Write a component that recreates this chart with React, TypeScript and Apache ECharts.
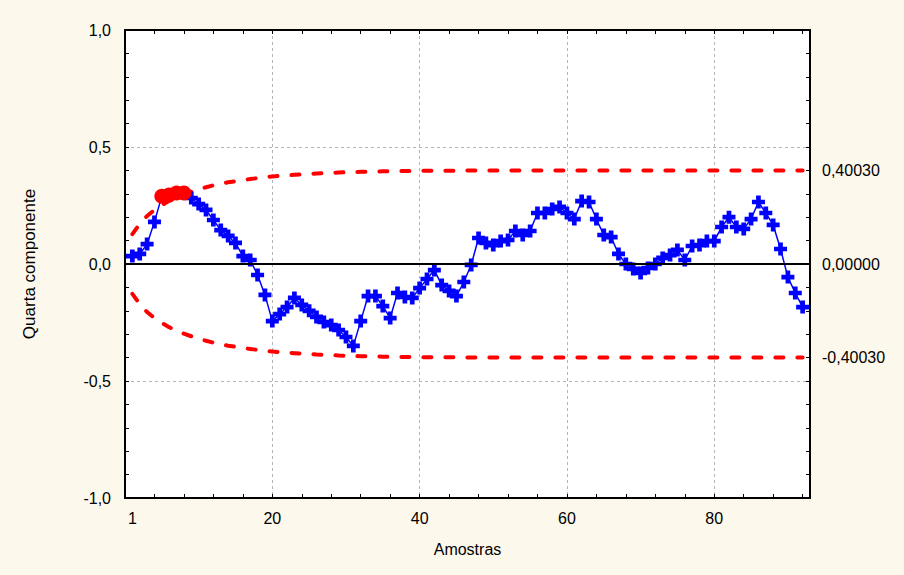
import React, { useEffect, useRef } from 'react';
import * as echarts from 'echarts';

const componentValues = [
  0.034, 0.043, 0.085, 0.18, 0.29, 0.295, 0.303, 0.303, 0.282, 0.256,
  0.231, 0.188, 0.145, 0.12, 0.09, 0.034, 0.017, -0.047, -0.132, -0.244,
  -0.214, -0.184, -0.145, -0.175, -0.2, -0.226, -0.248, -0.261, -0.282, -0.312,
  -0.35, -0.244, -0.137, -0.137, -0.18, -0.231, -0.124, -0.141, -0.145, -0.103,
  -0.064, -0.026, -0.09, -0.115, -0.137, -0.077, -0.004, 0.111, 0.09, 0.081,
  0.098, 0.103, 0.141, 0.124, 0.141, 0.218, 0.218, 0.235, 0.244, 0.218,
  0.192, 0.269, 0.265, 0.192, 0.124, 0.115, 0.043, 0.0, -0.021, -0.038,
  -0.017, 0.0, 0.026, 0.038, 0.06, 0.017, 0.077, 0.081, 0.098, 0.098,
  0.158, 0.2, 0.158, 0.15, 0.192, 0.265, 0.218, 0.167, 0.064, -0.056,
  -0.124, -0.184,
];

const upperLimit = [
  0.128, 0.172, 0.205, 0.231, 0.252, 0.27, 0.285, 0.298, 0.309, 0.319,
  0.328, 0.336, 0.343, 0.349, 0.354, 0.359, 0.363, 0.367, 0.371, 0.374,
  0.377, 0.379, 0.381, 0.383, 0.385, 0.387, 0.388, 0.389, 0.391, 0.392,
  0.393, 0.394, 0.394, 0.395, 0.396, 0.396, 0.397, 0.397, 0.398, 0.398,
  0.398, 0.399, 0.399, 0.399, 0.399, 0.399, 0.4, 0.4, 0.4, 0.4,
  0.4, 0.4, 0.4, 0.4, 0.4, 0.4, 0.4, 0.4, 0.4, 0.4,
  0.4, 0.4, 0.4, 0.4, 0.4, 0.4, 0.4, 0.4, 0.4, 0.4,
  0.4, 0.4, 0.4, 0.4, 0.4, 0.4, 0.4, 0.4, 0.4, 0.4,
  0.4, 0.4, 0.4, 0.4, 0.4, 0.4, 0.4, 0.4, 0.4, 0.4,
  0.4, 0.4,
];

const lowerLimit = [
  -0.128, -0.172, -0.205, -0.231, -0.252, -0.27, -0.285, -0.298, -0.309, -0.319,
  -0.328, -0.336, -0.343, -0.349, -0.354, -0.359, -0.363, -0.367, -0.371, -0.374,
  -0.377, -0.379, -0.381, -0.383, -0.385, -0.387, -0.388, -0.389, -0.391, -0.392,
  -0.393, -0.394, -0.394, -0.395, -0.396, -0.396, -0.397, -0.397, -0.398, -0.398,
  -0.398, -0.399, -0.399, -0.399, -0.399, -0.399, -0.4, -0.4, -0.4, -0.4,
  -0.4, -0.4, -0.4, -0.4, -0.4, -0.4, -0.4, -0.4, -0.4, -0.4,
  -0.4, -0.4, -0.4, -0.4, -0.4, -0.4, -0.4, -0.4, -0.4, -0.4,
  -0.4, -0.4, -0.4, -0.4, -0.4, -0.4, -0.4, -0.4, -0.4, -0.4,
  -0.4, -0.4, -0.4, -0.4, -0.4, -0.4, -0.4, -0.4, -0.4, -0.4,
  -0.4, -0.4,
];

const outOfControl = [5, 6, 7, 8];
const xLabelValues = [1, 20, 40, 60, 80];
const rightLabelValues = [-0.4003, 0, 0.4003];
const xTickValues = [0, 4, 8, 12, 16, 20, 24, 28, 32, 36, 40, 44, 48, 52, 56, 60, 64, 68, 72, 76, 80, 84, 88, 92];
const yTickValues = [-1, -0.9, -0.8, -0.7, -0.6, -0.5, -0.4, -0.3, -0.2, -0.1, 0, 0.1, 0.2, 0.3, 0.4, 0.5, 0.6, 0.7, 0.8, 0.9, 1];

const FONT = '"Liberation Sans", Arial, sans-serif';
const PLUS = 'path://M3.2,0H6.8V3.2H10V6.8H6.8V10H3.2V6.8H0V3.2H3.2Z';

export default function App() {
  const ref = useRef<HTMLDivElement>(null);

  useEffect(() => {
    if (!ref.current) return;
    const chart = echarts.init(ref.current, null, { renderer: 'svg' });

    const axisLine = { show: true, onZero: false, lineStyle: { color: '#000', width: 2 } };
    const xTick = { show: true, inside: true, length: 4, customValues: xTickValues, lineStyle: { color: '#000', width: 1 } };
    const yTick = { show: true, inside: true, length: 4, customValues: yTickValues, lineStyle: { color: '#000', width: 1 } };
    const gridLine = { show: true, lineStyle: { color: '#b4b4b4', type: [3, 3], width: 1 } };

    chart.setOption({
      animation: false,
      backgroundColor: '#FDF8EC',
      textStyle: { fontFamily: FONT },
      grid: {
        left: 125, right: 94, top: 30, bottom: 77,
        show: true, backgroundColor: '#ffffff', borderWidth: 0,
      },
      xAxis: [
        {
          type: 'value', position: 'bottom', min: 0, max: 93, interval: 20,
          axisLine, axisTick: xTick,
          axisLabel: {
            customValues: xLabelValues, color: '#000', fontSize: 16, margin: 12,
            fontFamily: FONT,
          },
          splitLine: { show: false },
          name: 'Amostras', nameLocation: 'middle', nameGap: 43,
          nameTextStyle: { color: '#000', fontSize: 16, fontFamily: FONT },
          z: 5,
        },
        {
          type: 'value', position: 'top', min: 0, max: 93, interval: 20,
          axisLine, axisTick: xTick,
          axisLabel: { show: false }, splitLine: { show: false },
          z: 5,
        },
        {
          type: 'value', position: 'top', min: 0, max: 93, interval: 20,
          axisLine: { show: false }, axisTick: { show: false },
          axisLabel: { show: false }, splitLine: gridLine,
          z: 0,
        },
      ],
      yAxis: [
        {
          type: 'value', position: 'left', min: -1, max: 1, interval: 0.5,
          axisLine, axisTick: yTick,
          axisLabel: {
            color: '#000', fontSize: 16, margin: 14, fontFamily: FONT,
            formatter: (v: number) => v.toFixed(1).replace('.', ','),
          },
          splitLine: { show: false },
          name: 'Quarta componente', nameLocation: 'middle', nameGap: 87,
          nameTextStyle: { color: '#000', fontSize: 17, fontFamily: FONT },
          z: 5,
        },
        {
          type: 'value', position: 'right', min: -1, max: 1, interval: 0.5,
          axisLine, axisTick: yTick,
          axisLabel: {
            customValues: rightLabelValues, color: '#000', fontSize: 16, margin: 12,
            fontFamily: FONT,
            formatter: (v: number) => v.toFixed(5).replace('.', ','),
          },
          splitLine: { show: false },
          z: 5,
        },
        {
          type: 'value', position: 'right', min: -1, max: 1, interval: 0.5,
          axisLine: { show: false }, axisTick: { show: false },
          axisLabel: { show: false }, splitLine: gridLine,
          z: 0,
        },
      ],
      series: [
        {
          type: 'line', name: 'LSC', silent: true, showSymbol: false, symbol: 'none',
          data: upperLimit.map((v, i) => [i + 1, v]),
          lineStyle: { color: '#ff0000', width: 4, type: [8, 14], cap: 'round' },
          z: 2,
          markLine: {
            silent: true, symbol: 'none', label: { show: false },
            lineStyle: { color: '#000', width: 2, type: 'solid' },
            data: [{ yAxis: 0 }],
          },
        },
        {
          type: 'line', name: 'LIC', silent: true, showSymbol: false, symbol: 'none',
          data: lowerLimit.map((v, i) => [i + 1, v]),
          lineStyle: { color: '#ff0000', width: 4, type: [8, 14], cap: 'round' },
          z: 2,
        },
        {
          type: 'line', name: 'Quarta componente',
          symbol: PLUS, symbolSize: 13,
          itemStyle: { color: '#0000ff' },
          lineStyle: { color: '#0000ff', width: 1.5 },
          data: componentValues.map((v, i) =>
            outOfControl.includes(i + 1)
              ? { value: [i + 1, v], symbol: 'none' }
              : { value: [i + 1, v] }
          ),
          z: 3,
        },
        {
          type: 'scatter', name: 'Fora de controle',
          symbol: 'circle', symbolSize: 15,
          itemStyle: { color: '#ff0000', opacity: 1 },
          data: outOfControl.map((i) => [i, componentValues[i - 1]]),
          z: 4,
        },
      ],
    });

    return () => chart.dispose();
  }, []);

  return (
    <div
      ref={ref}
      style={{ position: 'absolute', left: 0, top: 0, width: 904, height: 575 }}
    />
  );
}
